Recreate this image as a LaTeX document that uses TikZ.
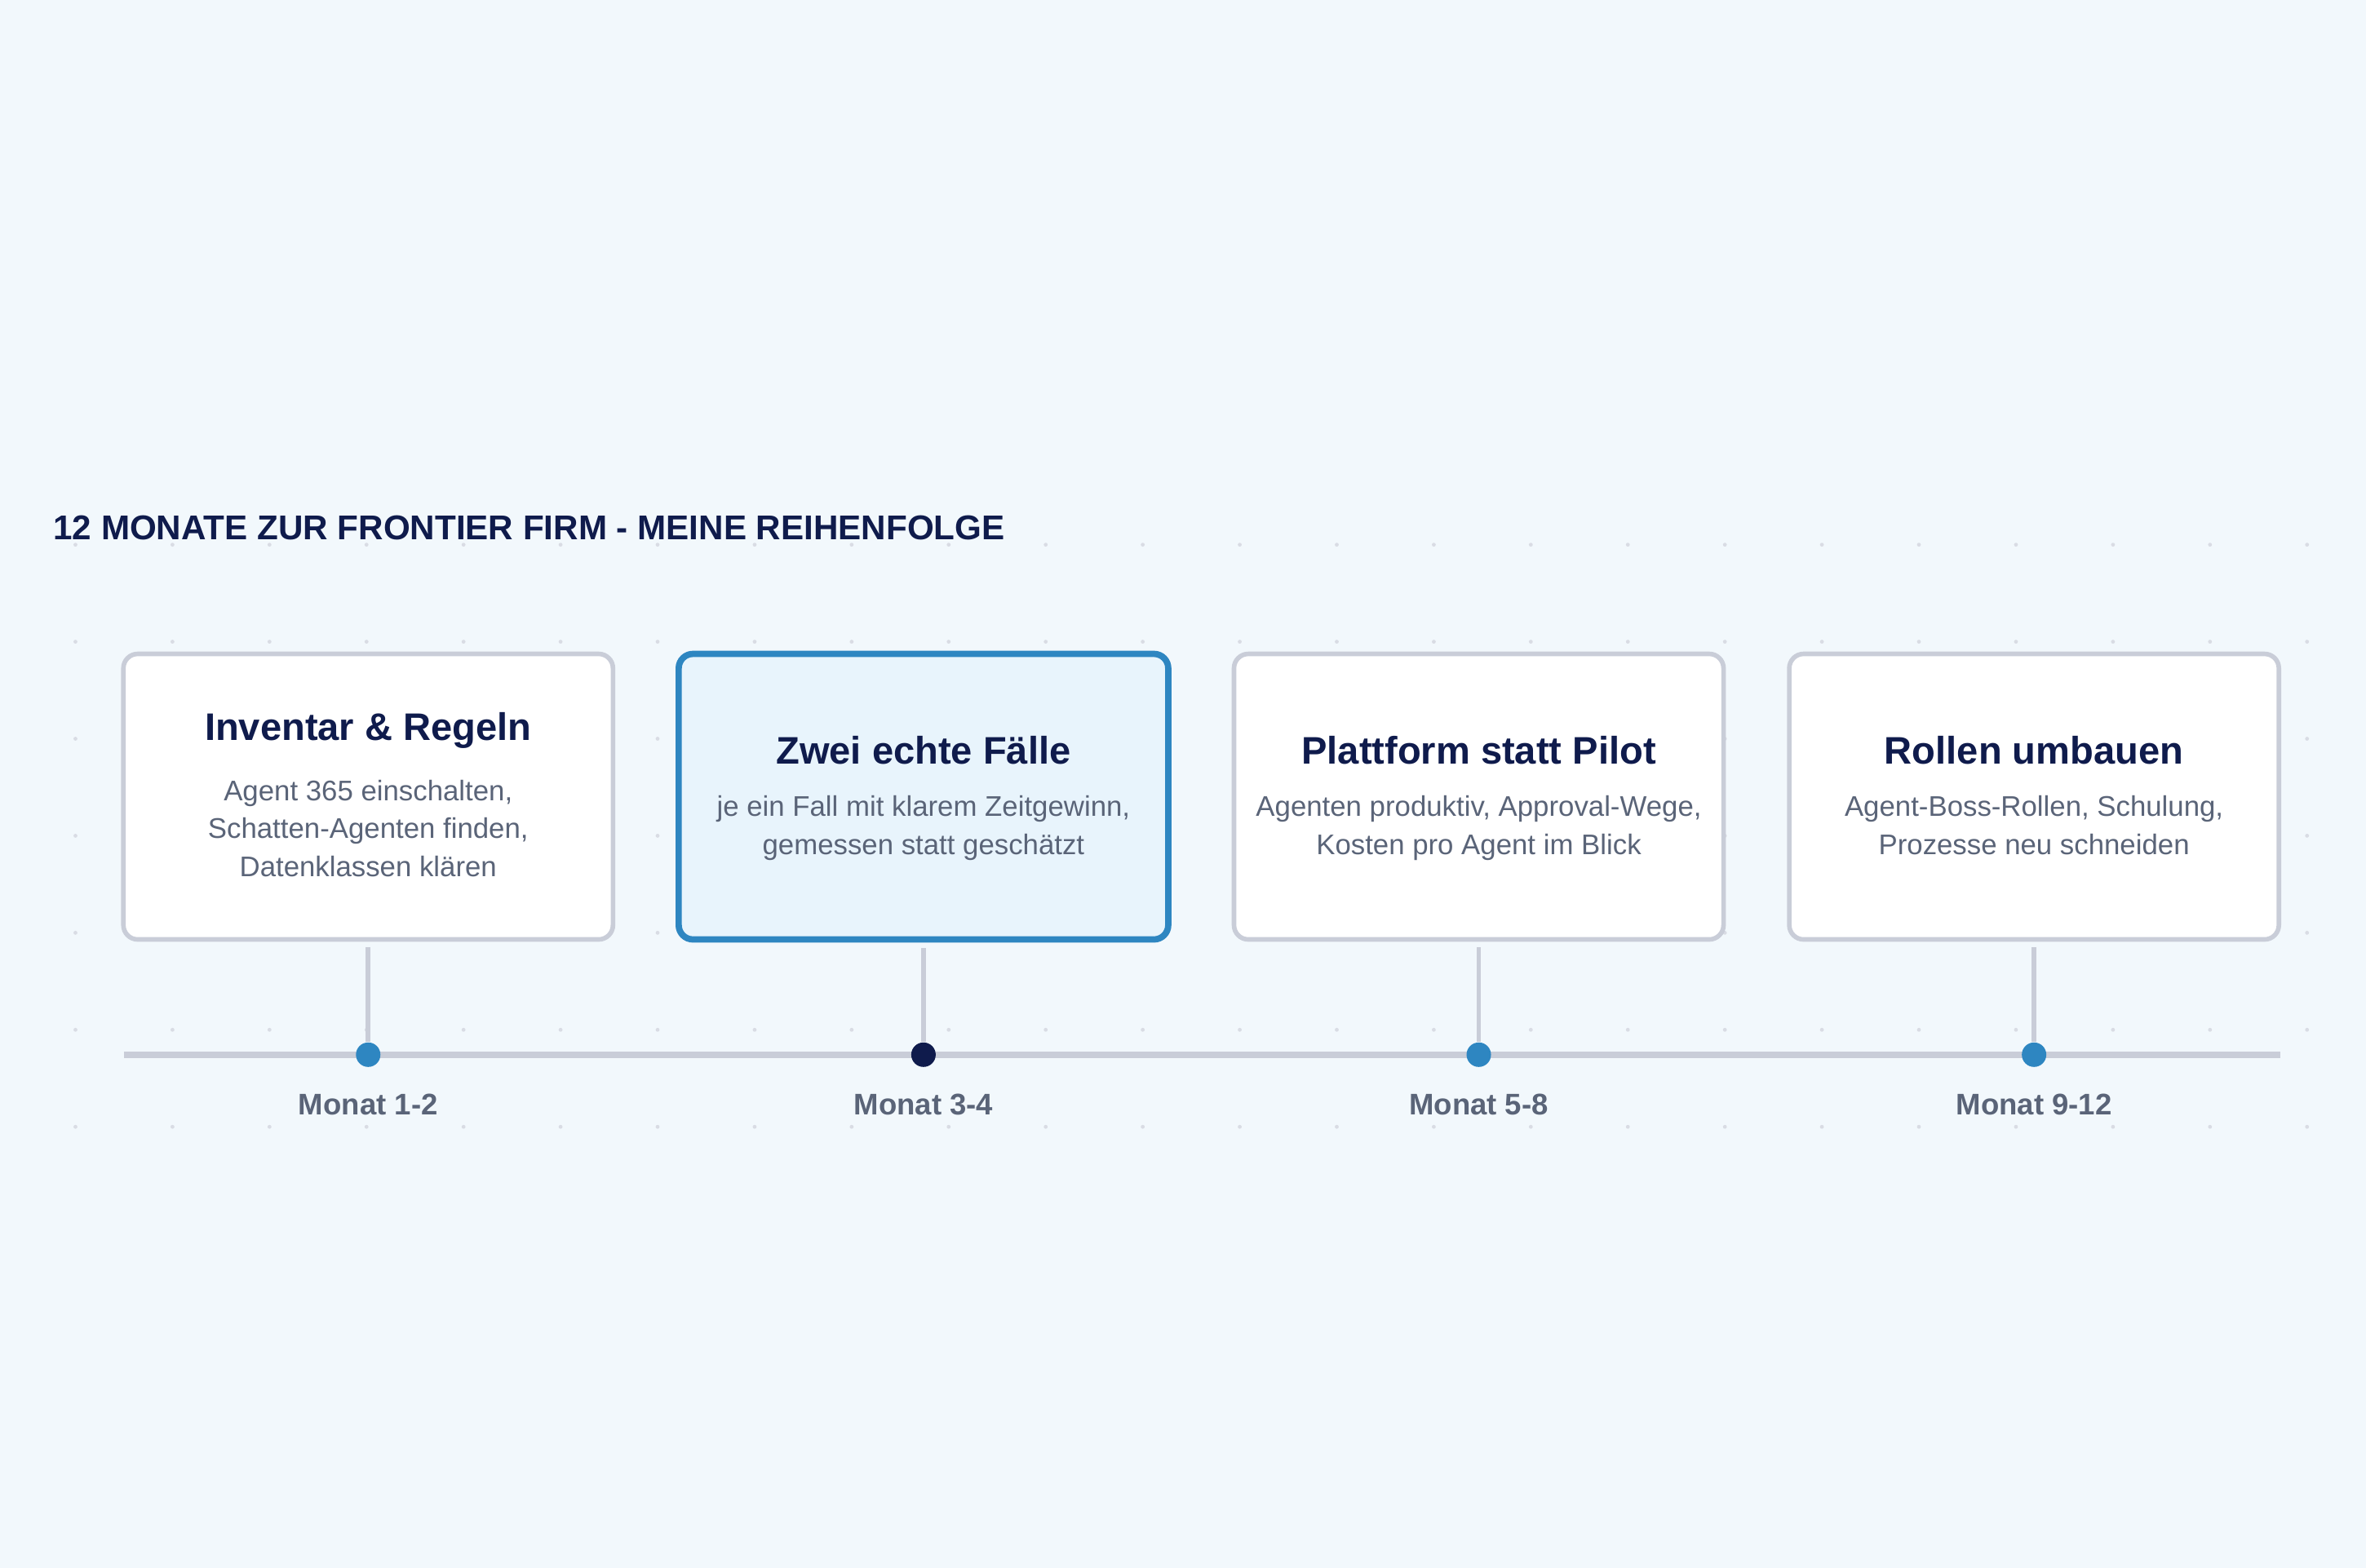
\documentclass[tikz,border=0pt]{standalone}
\usepackage{fontspec}
\setmainfont{Liberation Sans}
\usetikzlibrary{positioning}
\definecolor{bgc}{HTML}{F2F8FC}
\definecolor{navy}{HTML}{0F1B4C}
\definecolor{muted}{HTML}{5A6478}
\definecolor{edge}{HTML}{C9CDD8}
\definecolor{accent}{HTML}{2E86C1}
\definecolor{hilite}{HTML}{E8F4FC}
\tikzset{
  card/.style={draw=edge, line width=1.6pt, rounded corners=5pt, fill=white,
    minimum width=6.0cm, minimum height=3.5cm},
  active/.style={draw=accent, line width=2.2pt, fill=hilite},
  heading/.style={font=\bfseries\fontsize{13.4}{16}\selectfont, text=navy},
  body/.style={font=\fontsize{9.9}{13.2}\selectfont, text=muted, align=center},
  dot/.style={circle, fill=accent, inner sep=0pt, minimum size=0.3cm},
  stem/.style={draw=edge, line width=1.6pt},
  month/.style={font=\bfseries\fontsize{10.4}{12}\selectfont, text=muted}
}
\begin{document}
\begin{tikzpicture}[x=0.0185cm,y=-0.0185cm]
        % background
        \fill[bgc] (0,0) rectangle (1568,1039);
        \useasboundingbox (0,0) rectangle (1568,1039);

        % dot grid
        \foreach \gx in {0,...,23}
          \foreach \gy in {0,...,6}
            \fill[edge!70] (50+64.3*\gx,361+64.3*\gy) circle (1.3);

        % title
        \node[anchor=west, inner sep=0pt, font=\bfseries\fontsize{12}{14}\selectfont, text=navy] (title) at (35,350) {12 MONATE ZUR FRONTIER FIRM - MEINE REIHENFOLGE};

        % timeline
        \coordinate (lineL) at (82,699);
        \coordinate (lineR) at (1511,699);
        \draw[edge, line width=2.4pt] (lineL) -- (lineR);

        % cards
        \node[card] (c1) at (244,528) {};
        \node[card, active] (c2) at (612,528) {};
        \node[card] (c3) at (980,528) {};
        \node[card] (c4) at (1348,528) {};

        \node[heading] (h1) at (244,484) {Inventar \& Regeln};
        \node[body, below=4pt of h1] {Agent 365 einschalten,\\Schatten-Agenten finden,\\Datenklassen klären};
        \node[heading] (h2) at (612,497) {Zwei echte Fälle};
        \node[body, below=4pt of h2] {je ein Fall mit klarem Zeitgewinn,\\gemessen statt geschätzt};
        \node[heading] (h3) at (980,497) {Plattform statt Pilot};
        \node[body, below=4pt of h3] {Agenten produktiv, Approval-Wege,\\Kosten pro Agent im Blick};
        \node[heading] (h4) at (1348,497) {Rollen umbauen};
        \node[body, below=4pt of h4] {Agent-Boss-Rollen, Schulung,\\Prozesse neu schneiden};

        % milestones
        \node[dot] (d1) at (244,699) {};
        \node[dot, fill=navy] (d2) at (612,699) {};
        \node[dot] (d3) at (980,699) {};
        \node[dot] (d4) at (1348,699) {};
        \foreach \i in {1,...,4}
          \draw[stem] ([yshift=-2pt]c\i.south) -- (d\i.north);

        % months
        \node[month] (m1) at (244,732) {Monat 1-2};
        \node[month] (m2) at (612,732) {Monat 3-4};
        \node[month] (m3) at (980,732) {Monat 5-8};
        \node[month] (m4) at (1348,732) {Monat 9-12};
\end{tikzpicture}
\end{document}
